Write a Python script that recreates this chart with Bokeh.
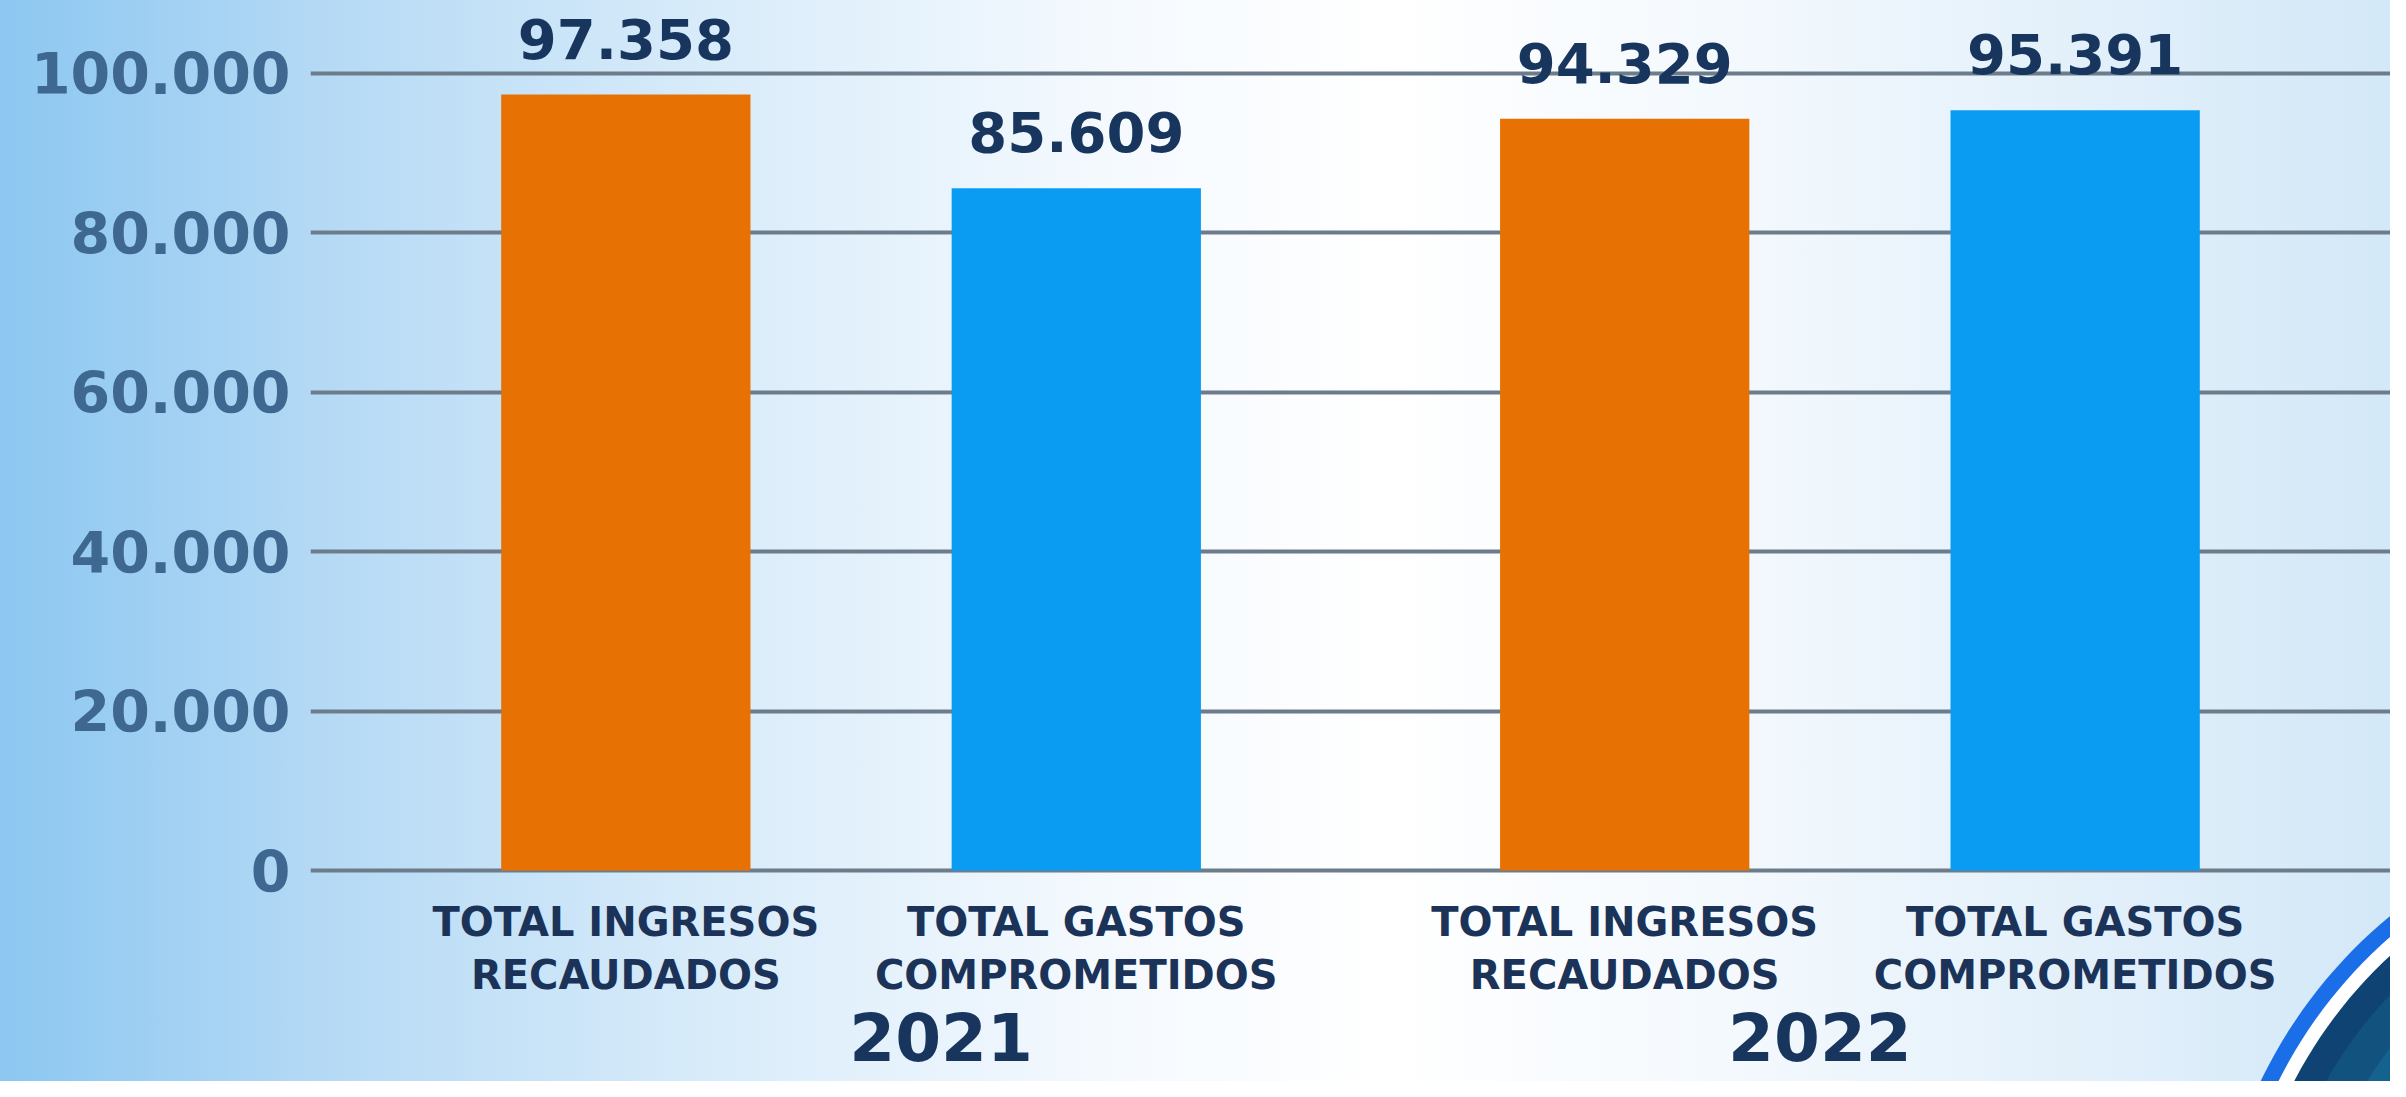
import numpy as np
from bokeh.plotting import figure
from bokeh.models import FactorRange, Range1d, FixedTicker, ColumnDataSource, PolyAnnotation
from bokeh.embed import file_html
from bokeh.resources import INLINE
from bokeh.core.properties import value

# ---------------- data ----------------
years = ["2021", "2021", "2022", "2022"]
concepts = ["INGRESOS", "GASTOS", "INGRESOS", "GASTOS"]
category_labels = [
    "TOTAL INGRESOS\nRECAUDADOS",
    "TOTAL GASTOS\nCOMPROMETIDOS",
    "TOTAL INGRESOS\nRECAUDADOS",
    "TOTAL GASTOS\nCOMPROMETIDOS",
]
amounts = [97358, 85609, 94329, 95391]
amount_labels = ["97.358", "85.609", "94.329", "95.391"]
year_labels = ["2021", "2022"]
y_ticks = [0, 20000, 40000, 60000, 80000, 100000]
y_tick_labels = ["0", "20.000", "40.000", "60.000", "80.000", "100.000"]

# ---------------- styles ----------------
ORANGE = "#e87103"
BLUE = "#0a9cf2"
bar_colors = [ORANGE, BLUE, ORANGE, BLUE]
NAVY = "#17355d"
AXIS_TXT = "#3f6891"
GRID = "#6c7c8a"
FONT = "DejaVu Sans"

W, H = 2390, 1081
LEFT = 310

factors = list(zip(years, concepts))
x_range = FactorRange(*factors, factor_padding=0.807, group_padding=1.2,
                      range_padding=0.765, range_padding_units="absolute")
y_range = Range1d(-26474, 109159)

p = figure(width=W, height=H, x_range=x_range, y_range=y_range,
           output_backend="svg", toolbar_location=None,
           x_axis_location=None, y_axis_location="left",
           min_border_left=LEFT, min_border_right=0,
           min_border_top=0, min_border_bottom=0)

p.background_fill_alpha = 0
p.border_fill_alpha = 0
p.outline_line_color = None
p.styles = {"background": "linear-gradient(90deg, #8cc7f1 0%, #b6daf5 14%, #d9ecfa 30%, #f4f9fe 46%, #ffffff 58%, #f2f8fd 74%, #d3e8f8 100%)"}

# grid
p.xgrid.visible = False
p.ygrid.ticker = FixedTicker(ticks=y_ticks)
p.ygrid.grid_line_color = GRID
p.ygrid.grid_line_width = 4

# y axis
ax = p.yaxis[0]
ax.ticker = FixedTicker(ticks=y_ticks)
ax.major_label_overrides = {t: l for t, l in zip(y_ticks, y_tick_labels)}
ax.axis_line_color = None
ax.major_tick_line_color = None
ax.minor_tick_line_color = None
ax.major_label_standoff = 14
ax.major_label_text_font = FONT
ax.major_label_text_font_style = "bold"
ax.major_label_text_font_size = "57px"
ax.major_label_text_color = AXIS_TXT

# decoration in the bottom-right corner (screen units are frame-relative, y up)
theta = np.linspace(0, 2 * np.pi, 240)
cx, cy = 2700 - LEFT, H - 1292
for r, c in [(488, "#1a6ee8"), (472, "#ffffff"), (458, "#0e4373"), (430, "#12527f"), (395, "#16628f")]:
    p.add_layout(PolyAnnotation(xs=list(cx + r * np.cos(theta)), ys=list(cy + r * np.sin(theta)),
                                xs_units="screen", ys_units="screen",
                                fill_color=c, fill_alpha=1.0, line_color=None,
                                level="underlay"))

# bars
src = ColumnDataSource(dict(x=factors, top=amounts, color=bar_colors,
                            lab=amount_labels, cat=category_labels))
p.vbar(x="x", top="top", width=1.0, bottom=0, fill_color="color",
       line_color=None, source=src)

# value labels
p.text(x="x", y="top", text="lab", source=src, text_align="center",
       text_baseline="alphabetic", y_offset=-56,
       text_font=value(FONT), text_font_style="bold",
       text_font_size="56px", text_color=NAVY)

# category labels
p.text(x="x", y=0, text="cat", source=src, text_align="center",
       text_baseline="middle", y_offset=78, text_line_height=1.15,
       text_font=value(FONT), text_font_style="bold",
       text_font_size="40px", text_color="#1b3358")

# year labels
for yl, xo in zip(year_labels, [90, -30]):
    p.text(x=[yl], y=[0], text=[yl], text_align="center",
           text_baseline="middle", y_offset=166, x_offset=xo,
           text_font=value(FONT), text_font_style="bold",
           text_font_size="66px", text_color=NAVY)

open("out.html", "w").write(file_html(p, INLINE))
